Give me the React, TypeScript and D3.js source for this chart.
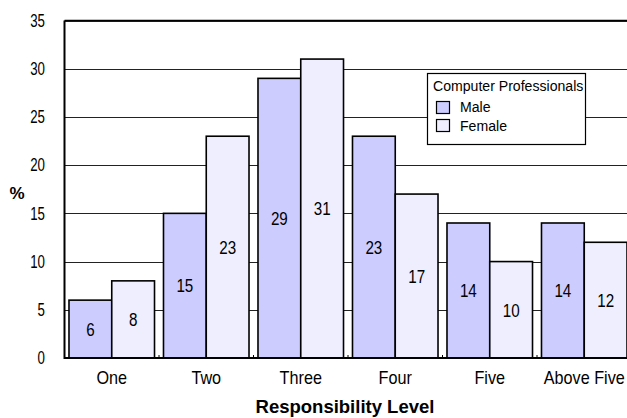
import React from "react";
import * as d3 from "d3";

const categories = ["One", "Two", "Three", "Four", "Five", "Above Five"];
const seriesNames = ["Male", "Female"];
const maleValues = [6, 15, 29, 23, 14, 14];
const femaleValues = [8, 23, 31, 17, 10, 12];
const yTicks = [0, 5, 10, 15, 20, 25, 30, 35];
const legendTitle = "Computer Professionals";
const xTitle = "Responsibility Level";
const yTitle = "%";
const colors = ["#ccccff", "#eeeeff"];

export default function App() {
  const W = 627, H = 418;
  const left = 64.5, right = 631.5, top = 20.5, bottom = 358;
  const y = d3.scaleLinear().domain([0, 35]).range([bottom, top]);
  const x = d3.scaleBand<string>().domain(categories).range([left, right]).paddingInner(0.095).paddingOuter(0.0475);
  const xs = d3.scaleBand<string>().domain(seriesNames).range([0, x.bandwidth()]);
  const series = [maleValues, femaleValues];
  const font = "'Liberation Sans', Arial, sans-serif";
  const step = x.step();

  return (
    <svg width={W} height={H} style={{ position: "absolute", left: 0, top: 0, background: "#fff" }} fontFamily={font}>
      <rect x={0} y={0} width={W} height={H} fill="#fff" />
      {/* gridlines */}
      {yTicks.map((t) => (
        <line key={t} x1={left} x2={right} y1={Math.round(y(t)) + 0.5} y2={Math.round(y(t)) + 0.5} stroke="#222" strokeWidth={1} />
      ))}
      {/* bars */}
      {categories.map((c, i) => (
        <g key={c}>
          {series.map((vals, s) => {
            const bx = (x(c) as number) + (xs(seriesNames[s]) as number);
            const bw = xs.bandwidth();
            const by = y(vals[i]);
            return (
              <g key={s}>
                <rect x={bx} y={by} width={bw} height={bottom - by} fill={colors[s]} stroke="#000" strokeWidth={1.6} />
                <text
                  transform={`translate(${bx + bw / 2},${(by + bottom) / 2 + 6.8}) scale(0.8,1)`}
                  textAnchor="middle"
                  fontSize={19}
                  fill="#000"
                >
                  {vals[i]}
                </text>
              </g>
            );
          })}
        </g>
      ))}
      {/* axes */}
      <line x1={left} x2={left} y1={top} y2={bottom + 1} stroke="#000" strokeWidth={2} />
      <line x1={left} x2={right} y1={bottom} y2={bottom} stroke="#000" strokeWidth={2} />
      <line x1={left} x2={right} y1={top} y2={top} stroke="#000" strokeWidth={1.5} />
      {categories.slice(1).map((c) => (
        <line key={c} x1={(x(c) as number) - step * 0.0475} x2={(x(c) as number) - step * 0.0475} y1={bottom} y2={bottom - 3} stroke="#000" strokeWidth={1} />
      ))}
      {yTicks.map((t) => (
        <text key={t} transform={`translate(45,${y(t) + 6.3}) scale(0.76,1)`} textAnchor="end" fontSize={17.5} fill="#000">
          {t}
        </text>
      ))}
      {categories.map((c) => (
        <text key={c} transform={`translate(${(x(c) as number) + x.bandwidth() / 2},384) scale(0.9,1)`} textAnchor="middle" fontSize={18} fill="#000">
          {c}
        </text>
      ))}
      <text x={345} y={413} textAnchor="middle" fontSize={18.5} fontWeight="bold" fill="#000">
        {xTitle}
      </text>
      <text x={17} y={199} textAnchor="middle" fontSize={17} fontWeight="bold" fill="#000">
        {yTitle}
      </text>
      {/* legend */}
      <g>
        <rect x={427.5} y={73.5} width={158} height={71} fill="#fff" stroke="#000" strokeWidth={1.2} />
        <text transform="translate(433,90.5) scale(0.91,1)" fontSize={15.5} fill="#000">
          {legendTitle}
        </text>
        {seriesNames.map((n, s) => (
          <g key={n}>
            <rect x={436.5} y={101.5 + s * 18} width={13} height={12} fill={colors[s]} stroke="#000" strokeWidth={1.2} />
            <text transform={`translate(460,${112 + s * 19}) scale(0.91,1)`} fontSize={15.5} fill="#000">
              {n}
            </text>
          </g>
        ))}
      </g>
    </svg>
  );
}
